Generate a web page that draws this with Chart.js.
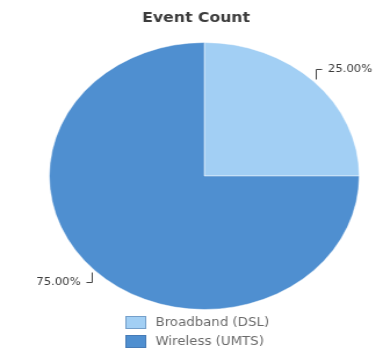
<!DOCTYPE html>
<html>
<head>
<meta charset="utf-8">
<title>Event Count</title>
<script src="https://cdn.jsdelivr.net/npm/chart.js@4/dist/chart.umd.min.js"></script>
<style>
    html, body { margin: 0; padding: 0; background: #fff; }
    /* chart is laid out narrower and stretched sideways, so the pie reads as an ellipse */
    #wrap {
        width: 330px;
        height: 355px;
        transform: scaleX(1.1606);
        transform-origin: 0 0;
    }
</style>
</head>
<body>
<div id="wrap"><canvas id="eventChart"></canvas></div>
<script>
// Event count split by access type
const chartTitle = 'Event Count';
const categories = ['Broadband (DSL)', 'Wireless (UMTS)'];
const eventCounts = [25, 75];
const sliceColors = ['#a2cff4', '#4f8fd0'];

// Title sits a little left of the pie centre
const titleText = {
    id: 'titleText',
    afterDraw(chart) {
        const ctx = chart.ctx;
        ctx.save();
        ctx.font = 'bold 13.5px "DejaVu Sans"';
        ctx.fillStyle = '#3c3c3c';
        ctx.textAlign = 'center';
        ctx.textBaseline = 'middle';
        ctx.fillText(chartTitle, 169, 18);
        ctx.restore();
    }
};

// Percentage labels with a small bracket leader next to each slice
const sliceLabels = {
    id: 'sliceLabels',
    afterDatasetsDraw(chart) {
        const ctx = chart.ctx;
        const meta = chart.getDatasetMeta(0);
        const data = chart.data.datasets[0].data;
        const total = data.reduce((a, b) => a + b, 0);
        ctx.save();
        ctx.font = '10px "DejaVu Sans"';
        ctx.fillStyle = '#3a3a3a';
        ctx.strokeStyle = '#444';
        ctx.lineWidth = 1;
        meta.data.forEach((arc, i) => {
            const p = arc.getProps(['x', 'y', 'startAngle', 'endAngle', 'outerRadius'], true);
            const mid = (p.startAngle + p.endAngle) / 2;
            const cos = Math.cos(mid), sin = Math.sin(mid);
            const x0 = p.x + (p.outerRadius + 3) * cos;
            const y0 = p.y + (p.outerRadius + 3) * sin;
            const y1 = y0 + Math.sign(sin) * 10;
            const x1 = x0 + Math.sign(cos) * 5;
            ctx.beginPath();
            ctx.moveTo(x0, y0);
            ctx.lineTo(x0, y1);
            ctx.lineTo(x1, y1);
            ctx.stroke();
            const text = (data[i] / total * 100).toFixed(2) + '%';
            ctx.textBaseline = 'middle';
            ctx.textAlign = cos > 0 ? 'left' : 'right';
            ctx.fillText(text, x1 + Math.sign(cos) * 5, y1);
        });
        ctx.restore();
    }
};

// Stacked legend under the pie, boxes lined up on the left
const stackedLegend = {
    id: 'stackedLegend',
    afterDraw(chart) {
        const ctx = chart.ctx;
        const ds = chart.data.datasets[0];
        const left = 108;
        const top = chart.chartArea.bottom + 6;
        ctx.save();
        ctx.font = '11.5px "DejaVu Sans"';
        ctx.textBaseline = 'middle';
        ctx.textAlign = 'left';
        chart.data.labels.forEach((label, i) => {
            const y = top + i * 19;
            ctx.fillStyle = ds.backgroundColor[i];
            ctx.fillRect(left, y, 18, 13);
            ctx.strokeStyle = 'rgba(60,100,150,0.45)';
            ctx.strokeRect(left + 0.5, y + 0.5, 17, 12);
            ctx.fillStyle = '#6a6a6a';
            ctx.fillText(label, left + 26, y + 7);
        });
        ctx.restore();
    }
};

new Chart(document.getElementById('eventChart'), {
    type: 'pie',
    data: {
        labels: categories,
        datasets: [{
            data: eventCounts,
            backgroundColor: sliceColors,
            borderColor: 'rgba(255,255,255,0.45)',
            borderWidth: 1
        }]
    },
    options: {
        responsive: true,
        maintainAspectRatio: false,
        animation: false,
        layout: {
            padding: { top: 42, left: 22, right: 0, bottom: 45 }
        },
        plugins: {
            title: { display: false },
            legend: { display: false },
            tooltip: { enabled: false }
        }
    },
    plugins: [titleText, sliceLabels, stackedLegend]
});
</script>
</body>
</html>
